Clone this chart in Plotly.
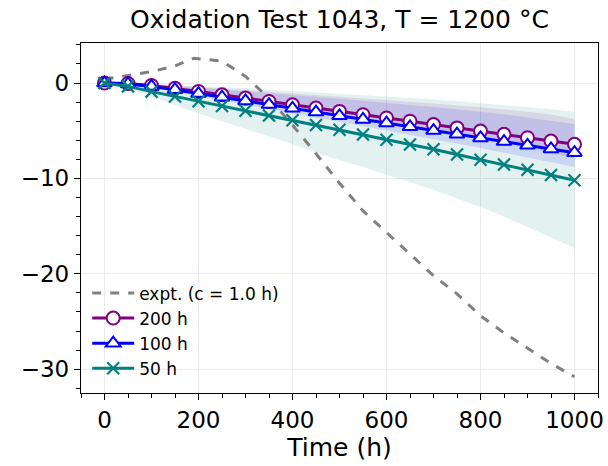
import plotly.graph_objects as go

time_h = [0, 50, 100, 150, 200, 250, 300, 350, 400, 450, 500, 550, 600, 650, 700, 750, 800, 850, 900, 950, 1000]

expt_time = [0, 50, 100, 150, 190, 250, 300, 350, 400, 450, 500, 550, 600, 650, 700, 750, 800, 850, 900, 950, 1000]
expt_vals = [0.4, 0.8, 1.2, 1.8, 2.6, 2.3, 0.7, -1.6, -4.4, -7.4, -10.5, -13.4, -15.7, -17.9, -20.2, -22.1, -24.4, -26.2, -27.8, -29.4, -30.8]

s200 = [0, -0.05, -0.25, -0.55, -0.88, -1.23, -1.58, -1.93, -2.28, -2.62, -2.97, -3.32, -3.66, -4.0, -4.35, -4.7, -5.04, -5.38, -5.73, -6.08, -6.42]
s100 = [0, -0.1, -0.35, -0.7, -1.1, -1.49, -1.88, -2.26, -2.65, -3.04, -3.43, -3.81, -4.2, -4.59, -4.98, -5.36, -5.75, -6.14, -6.53, -6.91, -7.3]
s50 = [0, -0.35, -0.9, -1.4, -1.9, -2.4, -2.9, -3.4, -3.9, -4.4, -4.9, -5.4, -5.95, -6.45, -6.95, -7.5, -8.05, -8.55, -9.1, -9.65, -10.2]

s200_hi = [0, 0.0, -0.1, -0.25, -0.4, -0.55, -0.72, -0.9, -1.07, -1.25, -1.42, -1.6, -1.78, -1.96, -2.14, -2.34, -2.54, -2.76, -3.0, -3.3, -3.8]
s200_lo = [0, -0.1, -0.35, -0.7, -1.1, -1.5, -1.9, -2.3, -2.7, -3.08, -3.46, -3.84, -4.22, -4.6, -5.0, -5.4, -5.8, -6.25, -6.75, -7.3, -7.9]
s100_hi = [0, -0.02, -0.15, -0.3, -0.5, -0.68, -0.86, -1.05, -1.25, -1.45, -1.65, -1.85, -2.05, -2.27, -2.5, -2.74, -3.0, -3.28, -3.6, -3.95, -4.3]
s100_lo = [0, -0.2, -0.5, -0.9, -1.35, -1.8, -2.25, -2.7, -3.15, -3.6, -4.05, -4.5, -4.95, -5.4, -5.85, -6.3, -6.8, -7.3, -7.8, -8.3, -8.8]
s50_hi = [0, 0.0, -0.1, -0.2, -0.3, -0.42, -0.55, -0.68, -0.82, -0.96, -1.1, -1.25, -1.4, -1.56, -1.72, -1.9, -2.1, -2.3, -2.5, -2.75, -3.0]
s50_lo = [0, -0.6, -1.4, -2.3, -3.2, -4.0, -4.8, -5.6, -6.4, -7.3, -8.1, -8.8, -9.6, -10.4, -11.2, -12.1, -13.0, -14.0, -15.1, -16.2, -17.3]

x_ticks = [0, 200, 400, 600, 800, 1000]
y_ticks = [-30, -20, -10, 0]

fig = go.Figure()

def band(hi, lo, fillcolor):
    fig.add_trace(go.Scatter(x=time_h, y=hi, mode="lines", line=dict(width=0),
                             showlegend=False, hoverinfo="skip"))
    fig.add_trace(go.Scatter(x=time_h, y=lo, mode="lines", line=dict(width=0),
                             fill="tonexty", fillcolor=fillcolor,
                             showlegend=False, hoverinfo="skip"))

band(s50_hi, s50_lo, "rgba(0,128,128,0.11)")
band(s100_hi, s100_lo, "rgba(0,0,255,0.11)")
band(s200_hi, s200_lo, "rgba(128,0,128,0.10)")

fig.add_trace(go.Scatter(x=expt_time, y=expt_vals, mode="lines", name="expt. (c = 1.0 h)",
                         legendgroup="a",
                         line=dict(color="#808080", width=3, dash="dash")))
fig.add_trace(go.Scatter(x=time_h, y=s200, mode="lines+markers", name="200 h",
                         legendgroup="b",
                         line=dict(color="#800080", width=3),
                         marker=dict(symbol="circle", size=13, color="white",
                                     line=dict(color="#800080", width=2))))
fig.add_trace(go.Scatter(x=time_h, y=s100, mode="lines+markers", name="100 h",
                         legendgroup="c",
                         line=dict(color="#0000ff", width=3),
                         marker=dict(symbol="triangle-up", size=13, color="white",
                                     line=dict(color="#0000ff", width=2))))
fig.add_trace(go.Scatter(x=time_h, y=s50, mode="lines+markers", name="50 h",
                         legendgroup="d",
                         line=dict(color="#008080", width=3),
                         marker=dict(symbol="x-thin", size=12, color="#008080",
                                     line=dict(color="#008080", width=2.2))))

axis_common = dict(showline=True, linecolor="black", linewidth=1.3, mirror=True,
                   ticks="outside", ticklen=6, tickcolor="black", tickwidth=1.3,
                   showgrid=True, gridcolor="#ebebeb", gridwidth=1, zeroline=False,
                   automargin=False,
                   tickfont=dict(size=23, color="black"))

fig.update_xaxes(range=[-50, 1050], tickvals=x_ticks,
                 minor=dict(dtick=50, tick0=0, ticklen=3.5, ticks="outside", tickcolor="black", showgrid=False),
                 title=dict(text="Time (h)", font=dict(size=25, color="black"), standoff=5),
                 **axis_common)
fig.update_yaxes(range=[-32.5, 4.2], tickvals=y_ticks,
                 minor=dict(dtick=2, tick0=0, ticklen=3.5, ticks="outside", tickcolor="black", showgrid=False),
                 **axis_common)

fig.update_layout(
    width=608, height=466,
    margin=dict(l=81, r=10, t=43, b=73),
    paper_bgcolor="white", plot_bgcolor="white",
    font=dict(family="DejaVu Sans", color="black"),
    title=dict(text="Oxidation Test 1043, T = 1200 °C", x=(81 + 598) / 2 / 608, xanchor="center",
               y=1 - 19 / 466, yanchor="middle", font=dict(size=25, color="black")),
    legend=dict(x=0.012, y=0.336, xanchor="left", yanchor="top", bgcolor="rgba(0,0,0,0)",
                font=dict(size=17, color="black"), traceorder="normal", tracegroupgap=2.5,
                itemwidth=42),
    showlegend=True,
)

fig.write_html("out.html")
